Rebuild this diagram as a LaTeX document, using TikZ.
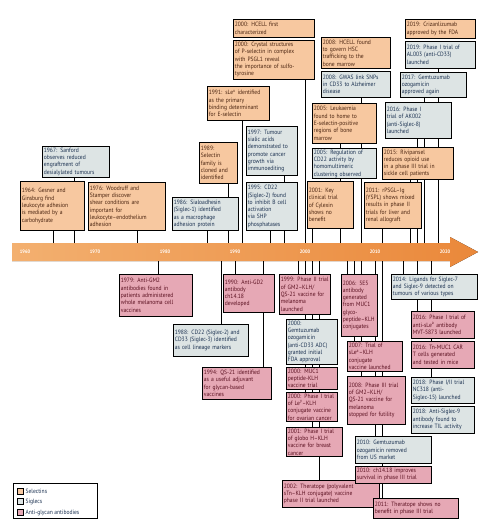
\documentclass[tikz,border=0pt]{standalone}
\usepackage{fontspec}
\setmainfont{PT Sans}[FakeStretch=0.9]
\usetikzlibrary{positioning,backgrounds}
\definecolor{selfill}{HTML}{F7C8A0}
\definecolor{sigfill}{HTML}{DDE4E4}
\definecolor{aglfill}{HTML}{E6A8B5}
\definecolor{seltext}{HTML}{4A2410}
\definecolor{sigtext}{HTML}{1A3050}
\definecolor{agltext}{HTML}{5A1020}
\definecolor{bandlight}{HTML}{F3B070}
\definecolor{banddark}{HTML}{EA883A}
\begin{document}
\begin{tikzpicture}[x=1pt, y=-1pt, font=\fontsize{6.2}{7.3}\selectfont,
  ev/.style={draw, line width=0.8pt, anchor=north west, align=left, inner xsep=1.5pt, inner ysep=1.5pt},
  sel/.style={ev, fill=selfill, text=seltext},
  sig/.style={ev, fill=sigfill, text=sigtext},
  agl/.style={ev, fill=aglfill, text=agltext},
  lnk/.style={line width=0.8pt},
  yrlabel/.style={text=white, font=\fontsize{5}{6}\selectfont\bfseries},
  swatch/.style={draw, line width=0.8pt, minimum size=6pt, inner sep=0pt}]
\useasboundingbox (0,0) rectangle (491,526);
% timeline
\foreach \yr in {1964,1967,1976,1986,1989,1991,1995,1997,2000,2001,2005,2008,2011,2015,2016,2017,2019}
  \coordinate (top\yr) at ({25+7*(\yr-1960)},243);
\foreach \yr in {1979,1988,1990,1994,1999,2000,2001,2002,2006,2007,2008,2010,2011,2014,2016,2018}
  \coordinate (bot\yr) at ({25+7*(\yr-1960)},261);

% events above the timeline
\node[sig, text width=64pt, minimum height=29pt] (s1967) at (42,146) {1967: Sanford\\observes reduced\\engraftment of\\desialylated tumours};
\node[sel, text width=61pt, minimum height=49pt] (s1964) at (20,181) {1964: Gesner and\\Ginsburg find\\leukocyte adhesion\\is mediated by a\\carbohydrate};
\node[sel, text width=74pt, minimum height=48pt] (s1976) at (88,182) {1976: Woodruff and\\Stamper discover\\shear conditions are\\important for\\leukocyte--endothelium\\adhesion};
\node[sig, text width=63pt, minimum height=33pt] (s1986) at (172,197) {1986: Sialoadhesin\\(Siglec-1) identified\\as a macrophage\\adhesion protein};
\node[sel, text width=35pt, minimum height=41pt] (s1989) at (199,142) {1989:\\Selectin\\family is\\cloned and\\identified};
\node[sel, text width=59pt, minimum height=34pt] (s1991) at (207,86) {1991: sLe\textsuperscript{x} identified\\as the primary\\binding determinant\\for E-selectin};
\node[sig, text width=48pt, minimum height=49pt] (s1997) at (246,126) {1997: Tumour\\sialic acids\\demonstrated to\\promote cancer\\growth via\\immunoediting};
\node[sig, text width=48pt, minimum height=48pt] (s1995) at (246,182) {1995: CD22\\(Siglec-2) found\\to inhibit B cell\\activation\\via SHP\\phosphatases};
\node[sel, text width=78pt, minimum height=18pt] (s2000a) at (233,19) {2000: HCELL first\\characterized};
\node[sel, text width=78pt, minimum height=39pt, below=2pt of s2000a.south west, anchor=north west] (s2000b) {2000: Crystal structures\\of P-selectin in complex\\with PSGL1 reveal\\the importance of sulfo-\\tyrosine};
\node[sel, text width=66pt, minimum height=31pt] (s2008a) at (321,37) {2008: HCELL found\\to govern HSC\\trafficking to the\\bone marrow};
\node[sig, text width=66pt, minimum height=26pt, below=2pt of s2008a.south west, anchor=north west] (s2008b) {2008: GWAS link SNPs\\in CD33 to Alzheimer\\disease};
\node[sel, text width=61pt, minimum height=40pt] (s2005a) at (312,103) {2005: Leukaemia\\found to home to\\E-selectin-positive\\regions of bone\\marrow};
\node[sig, text width=61pt, minimum height=30pt, below=4pt of s2005a.south west, anchor=north west] (s2005b) {2005: Regulation of\\CD22 activity by\\homomultimeric\\clustering observed};
\node[sel, text width=43pt, minimum height=47pt] (s2001) at (307,181) {2001: Key\\clinical trial\\of Cylexin\\shows no\\benefit};
\node[sel, text width=54pt, minimum height=46pt] (s2011) at (364,182) {2011: rPSGL--Ig\\(YSPL) shows mixed\\results in phase II\\trials for liver and\\renal allograft};
\node[sel, text width=68pt, minimum height=32pt] (s2015) at (382,147) {2015: Rivipansel\\reduces opioid use\\in a phase III trial in\\sickle cell patients};
\node[sig, text width=63pt, minimum height=36pt] (s2016) at (385,102) {2016: Phase I\\trial of AK002\\(anti-Siglec-8)\\launched};
\node[sig, text width=63pt, minimum height=25pt] (s2017) at (400,72) {2017: Gemtuzumab\\ozogamicin\\approved again};
\node[sel, text width=67pt, minimum height=19pt] (s2019a) at (405,19) {2019: Crizanlizumab\\approved by the FDA};
\node[sig, text width=67pt, minimum height=27pt, below=2pt of s2019a.south west, anchor=north west] (s2019b) {2019: Phase I trial of\\AL003 (anti-CD33)\\launched};

% events below the timeline
\node[agl, text width=70pt, minimum height=42pt] (b1979) at (119,274) {1979: Anti-GM2\\antibodies found in\\patients administered\\whole melanoma cell\\vaccines};
\node[agl, text width=48pt, minimum height=38pt] (b1990) at (223,274) {1990: Anti-GD2\\antibody\\ch14.18\\developed};
\node[sig, text width=72pt, minimum height=32pt] (b1988) at (173,324) {1988: CD22 (Siglec-2) and\\CD33 (Siglec-3) identified\\as cell lineage markers};
\node[agl, text width=66pt, minimum height=32pt] (b1994) at (202,367) {1994: QS-21 identified\\as a useful adjuvant\\for glycan-based\\vaccines};
\node[agl, text width=48pt, minimum height=40pt] (b1999) at (279,274) {1999: Phase II trial\\of GM2--KLH/\\QS-21 vaccine for\\melanoma\\launched};
\node[sig, text width=48pt, minimum height=44pt] (b2000a) at (286,319) {2000:\\Gemtuzumab\\ozogamicin\\(anti-CD33 ADC)\\granted initial\\FDA approval};
\node[agl, text width=48pt, minimum height=22pt, below=2pt of b2000a.south west, anchor=north west] (b2000b) {2000: MUC1\\peptide-KLH\\vaccine trial};
\node[agl, text width=48pt, minimum height=29pt, below=2pt of b2000b.south west, anchor=north west] (b2000c) {2000: Phase I trial\\of Le\textsuperscript{y}--KLH\\conjugate vaccine\\for ovarian cancer};
\node[agl, text width=53pt, minimum height=29pt, below=5pt of b2000c.south west, anchor=north west] (b2001) {2001: Phase I trial\\of globo H--KLH\\vaccine for breast\\cancer};
\node[agl, text width=94pt, minimum height=27pt] (b2002) at (282,480) {2002: Theratope (polyvalent\\sTn--KLH conjugate) vaccine\\phase II trial launched};
\node[agl, text width=33pt, minimum height=62pt] (b2006) at (341,274) {2006: 5E5\\antibody\\generated\\from MUC1\\glyco-\\peptide--KLH\\conjugates};
\node[agl, text width=52pt, minimum height=30pt] (b2007) at (347,341) {2007: Trial of\\sLe\textsuperscript{a}--KLH\\conjugate\\vaccine launched};
\node[agl, text width=55pt, minimum height=48pt] (b2008) at (347,376) {2008: Phase III trial\\of GM2--KLH/\\QS-21 vaccine for\\melanoma\\stopped for futility};
\node[sig, text width=73pt, minimum height=27pt] (b2010a) at (355,436) {2010: Gemtuzumab\\ozogamicin removed\\from US market};
\node[agl, text width=73pt, minimum height=17pt, below=2pt of b2010a.south west, anchor=north west] (b2010b) {2010: ch14.18 improves\\survival in phase III trial};
\node[agl, text width=82pt, minimum height=20pt] (b2011) at (373,498) {2011: Theratope shows no\\benefit in phase III trial};
\node[sig, text width=83pt, minimum height=25pt] (b2014) at (391,274) {2014: Ligands for Siglec-7\\and Siglec-9 detected on\\tumours of various types};
\node[agl, text width=60pt, minimum height=27pt] (b2016a) at (411,311) {2016: Phase I trial of\\anti-sLe\textsuperscript{a} antibody\\MVT-5873 launched};
\node[agl, text width=60pt, minimum height=27pt, below=2pt of b2016a.south west, anchor=north west] (b2016b) {2016: Tn-MUC1 CAR\\T cells generated\\and tested in mice};
\node[sig, text width=60pt, minimum height=26pt] (b2018a) at (411,377) {2018: Phase I/II trial\\NC318 (anti-\\Siglec-15) launched};
\node[sig, text width=60pt, minimum height=27pt, below=2pt of b2018a.south west, anchor=north west] (b2018b) {2018: Anti-Siglec-9\\antibody found to\\increase TIL activity};

% legend
\node[draw, line width=0.8pt, anchor=north west, minimum width=84pt, minimum height=35pt] (legend) at (13,483) {};
\node[swatch, fill=selfill] (kSel) at (20,491) {};
\node[swatch, fill=sigfill, below=4pt of kSel] (kSig) {};
\node[swatch, fill=aglfill, below=4pt of kSig] (kAgl) {};
\node[right=1pt of kSel, text=sigtext, inner sep=1pt] {Selectins};
\node[right=1pt of kSig, text=sigtext, inner sep=1pt] {Siglecs};
\node[right=1pt of kAgl, text=sigtext, inner sep=1pt] {Anti-glycan antibodies};

\begin{scope}[on background layer]
\fill[left color=bandlight, right color=banddark] (12,243) -- (450,243) -- (450,237) -- (478,252) -- (450,267) -- (450,261) -- (12,261) -- cycle;
\foreach \yr in {1960,1970,...,2020}
  \node[yrlabel] at ({25+7*(\yr-1960)},252) {\yr};
% connectors above
\draw[lnk] (top1964) -- (top1964 |- s1964.south);
\draw[lnk] (top1967) -- (top1967 |- s1967.south);
\draw[lnk] (top1976) -- (top1976 |- s1976.south);
\draw[lnk] (top1986) -- (top1986 |- s1986.south);
\draw[lnk] (top1989) -- (top1989 |- s1989.south);
\draw[lnk] (top1991) -- (top1991 |- s1991.south);
\draw[lnk] (top1995) -- (top1995 |- s1995.south);
\draw[lnk] (top1997) -- (top1997 |- s1997.south);
\draw[lnk] (top2000) -- (top2000 |- s2000b.south);
\draw[lnk] (top2001) -- (top2001 |- s2001.south);
\draw[lnk] (top2005) -- (top2005 |- s2005a.south);
\draw[lnk] (top2008) -- (top2008 |- s2008b.south);
\draw[lnk] (top2011) -- (top2011 |- s2011.south);
\draw[lnk] (top2015) -- (top2015 |- s2015.south);
\draw[lnk] (top2016) -- (top2016 |- s2016.south);
\draw[lnk] (top2017) -- (top2017 |- s2017.south);
\draw[lnk] (top2019) -- (top2019 |- s2019b.south);
% connectors below
\draw[lnk] (bot1979) -- (bot1979 |- b1979.north);
\draw[lnk] (bot1988) -- (bot1988 |- b1988.north);
\draw[lnk] (bot1990) -- (bot1990 |- b1990.north);
\draw[lnk] (bot1994) -- (bot1994 |- b1994.north);
\draw[lnk] (bot1999) -- (bot1999 |- b1999.north);
\draw[lnk] (bot2000) -- (bot2000 |- b2000c.north);
\draw[lnk] (bot2001) -- (bot2001 |- b2001.north);
\draw[lnk] (bot2002) -- (bot2002 |- b2002.north);
\draw[lnk] (bot2006) -- (bot2006 |- b2006.north);
\draw[lnk] (bot2007) -- (bot2007 |- b2007.north);
\draw[lnk] (bot2008) -- (bot2008 |- b2008.north);
\draw[lnk] (bot2010) -- (bot2010 |- b2010a.north);
\draw[lnk] (bot2011) -- (bot2011 |- b2011.north);
\draw[lnk] (bot2014) -- (bot2014 |- b2014.north);
\draw[lnk] (bot2016) -- (bot2016 |- b2016a.north);
\draw[lnk] (bot2018) -- (bot2018 |- b2018a.north);
\end{scope}
\end{tikzpicture}
\end{document}
